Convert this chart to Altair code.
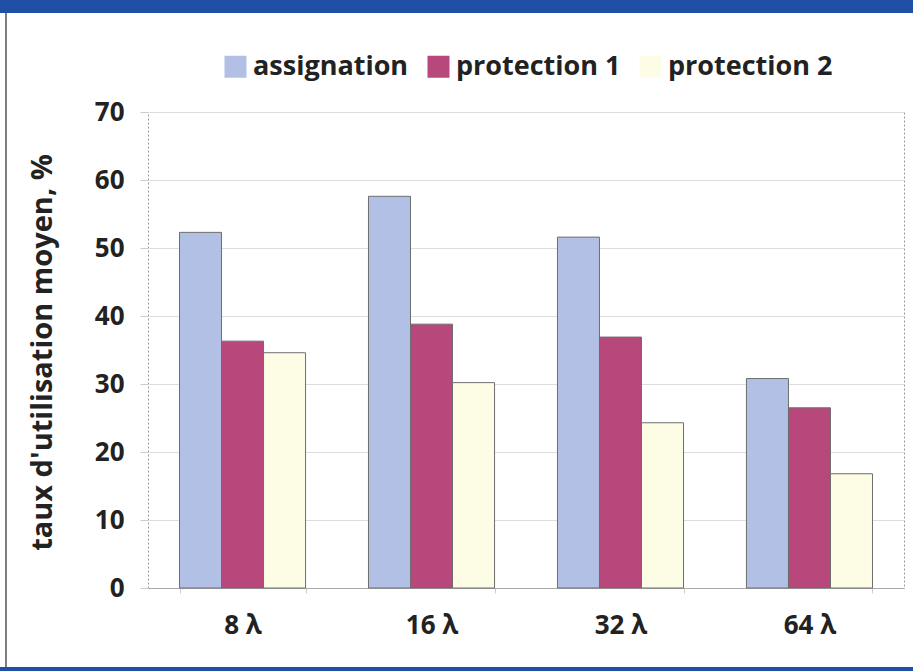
import altair as alt
import pandas as pd

categories = ["8 λ", "16 λ", "32 λ", "64 λ"]
series = ["assignation", "protection 1", "protection 2"]
assignation = [52.3, 57.6, 51.6, 30.8]
protection1 = [36.3, 38.8, 36.9, 26.5]
protection2 = [34.6, 30.2, 24.3, 16.8]
colors = ["#b3c0e6", "#b8477b", "#fdfde6"]

rows = []
for i, c in enumerate(categories):
    for s, vals in zip(series, [assignation, protection1, protection2]):
        rows.append({"cat": c, "serie": s, "val": vals[i]})
df = pd.DataFrame(rows)

FONT = "Open Sans"
W, H = 756, 476

bars = alt.Chart(df).mark_bar(stroke="#6e6e6e", strokeWidth=1).encode(
    x=alt.X("cat:N", sort=categories, title=None,
            scale=alt.Scale(paddingInner=0.333, paddingOuter=0.1667),
            axis=alt.Axis(labelAngle=0, labelFontSize=26, labelFontWeight="bold",
                          labelColor="#222222", labelFont=FONT, labelPadding=19,
                          tickBand="extent", tickSize=5, tickColor="#cccccc",
                          domainColor="#aaaaaa", grid=False)),
    xOffset=alt.XOffset("serie:N", sort=series),
    y=alt.Y("val:Q", title="taux d'utilisation moyen, %",
            scale=alt.Scale(domain=[0, 70]),
            axis=alt.Axis(values=[0, 10, 20, 30, 40, 50, 60, 70],
                          labelFontSize=26, labelFontWeight="bold", labelColor="#222222",
                          labelFont=FONT, labelPadding=16, tickSize=8, tickColor="#cccccc",
                          domain=False, gridColor="#dddddd",
                          titleFontSize=29, titleFontWeight="bold", titleFont=FONT,
                          titleColor="#222222", titleX=-106, titleY=240,
                          titleAngle=-90, titleAlign="center", titleBaseline="middle")),
    color=alt.Color("serie:N", sort=series,
                    scale=alt.Scale(domain=series, range=colors),
                    legend=alt.Legend(title=None, orient="none", direction="horizontal",
                                      legendX=74, legendY=-59,
                                      symbolType="square", symbolSize=484,
                                      symbolStrokeColor="transparent", symbolStrokeWidth=0,
                                      labelFontSize=27, labelFontWeight="bold",
                                      labelFont=FONT, labelColor="#222222",
                                      labelOffset=4, columnPadding=16, labelLimit=300)),
)

frame = alt.Chart(alt.Data(values=[{}]))
top_band = frame.mark_rule(color="#1f4fa6", strokeWidth=13).encode(
    x=alt.value(-148), x2=alt.value(W + 9), y=alt.value(-105.5))
bottom_band = frame.mark_rule(color="#1f4fa6", strokeWidth=8).encode(
    x=alt.value(-148), x2=alt.value(W + 9), y=alt.value(559))
left_line = frame.mark_rule(color="#555555", strokeWidth=1.5).encode(
    x=alt.value(-142), y=alt.value(-99), y2=alt.value(555))

chart = alt.layer(bars, top_band, bottom_band, left_line).properties(
    width=W, height=H,
    autosize=alt.AutoSizeParams(type="none"),
    padding={"left": 148, "top": 112, "right": 9, "bottom": 83},
    background="white",
).configure_view(stroke="#999999", strokeDash=[2, 2], strokeWidth=1)

chart.save("out.html", embed_options={"renderer": "svg", "actions": False})
